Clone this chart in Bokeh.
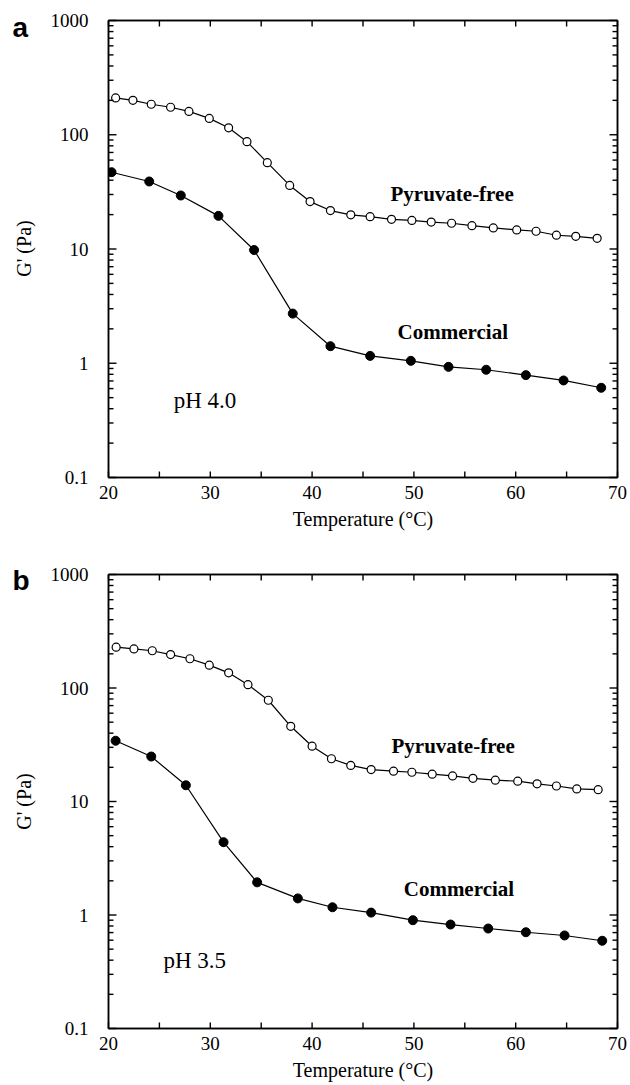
import math
from bokeh.plotting import figure
from bokeh.models import FixedTicker, LinearAxis, LogAxis, Label, CustomJSTickFormatter, Range1d
from bokeh.layouts import column, row
from bokeh.embed import file_html
from bokeh.resources import INLINE

# ---- data ----
temp_pf_a = [20.7, 22.4, 24.2, 26.1, 27.9, 29.9, 31.8, 33.6, 35.6, 37.8, 39.8, 41.8, 43.8,
             45.7, 47.8, 49.8, 51.7, 53.7, 55.7, 57.8, 60.1, 62.0, 64.0, 65.9, 68.0]
g_pf_a = [210, 200, 185, 174, 160, 139, 115, 87, 57, 36, 26, 21.7, 19.9,
          19.2, 18.2, 17.8, 17.2, 16.8, 16.0, 15.3, 14.7, 14.3, 13.2, 12.9, 12.4]
temp_com_a = [20.3, 24.0, 27.1, 30.8, 34.3, 38.1, 41.8, 45.7, 49.7, 53.4, 57.1, 61.0, 64.7, 68.4]
g_com_a = [47, 39, 29.4, 19.5, 9.8, 2.72, 1.41, 1.16, 1.05, 0.93, 0.877, 0.787, 0.707, 0.61]

temp_pf_b = [20.75, 22.5, 24.3, 26.1, 28.0, 29.9, 31.8, 33.7, 35.7, 37.9, 40.0, 41.9, 43.8,
             45.8, 48.0, 49.8, 51.8, 53.8, 55.8, 58.0, 60.2, 62.1, 64.0, 66.0, 68.1]
g_pf_b = [229, 221, 213, 197, 181, 159, 136, 107, 78, 46, 30.7, 23.8, 20.8,
          19.1, 18.5, 18.1, 17.4, 16.8, 16.0, 15.4, 15.1, 14.3, 13.7, 12.9, 12.7]
temp_com_b = [20.7, 24.2, 27.6, 31.3, 34.6, 38.6, 42.0, 45.8, 49.9, 53.6, 57.3, 61.0, 64.8, 68.5]
g_com_b = [34.3, 24.9, 13.9, 4.38, 1.94, 1.40, 1.17, 1.05, 0.90, 0.824, 0.76, 0.705, 0.66, 0.593]

x_major = [20, 30, 40, 50, 60, 70]
x_minor = [25, 35, 45, 55, 65]
y_major = [0.1, 1, 10, 100, 1000]
y_minor = [k * m for m in (0.1, 1, 10, 100) for k in range(2, 10)]
X_LO, X_HI = 20, 70
Y_LO, Y_HI = 0.1, 1000

SERIF = "Liberation Serif"
SANS = "Liberation Sans"
STRIP_W = 40
FIG_W = 630
TOTAL_H = 1085
LEFT_B = 108 - STRIP_W
TOP_B = 20


def style_axis(ax, show_labels):
    ax.axis_line_color = "black"
    ax.axis_line_width = 1.5
    ax.major_tick_line_color = None
    ax.minor_tick_line_color = None
    ax.major_tick_out = 0
    ax.minor_tick_out = 0
    ax.major_tick_in = 0
    ax.minor_tick_in = 0
    ax.major_label_text_font = SERIF
    ax.major_label_text_font_size = "19px"
    ax.major_label_text_color = "black"
    if show_labels:
        ax.formatter = CustomJSTickFormatter(code="return tick.toString();")
    else:
        ax.formatter = CustomJSTickFormatter(code="return '';")
        ax.major_label_standoff = 0


def inner_ticks(p, frame_w, frame_h):
    # inward tick marks, lengths given in pixels and converted to data units
    px_x = (X_HI - X_LO) / frame_w
    dec = math.log10(Y_HI / Y_LO) / frame_h
    kw = dict(line_color="black", line_width=1.4, level="overlay")
    xt = x_major + x_minor
    n = len(xt)
    fx = 10 ** (6 * dec)
    p.segment(x0=xt, y0=[Y_LO] * n, x1=xt, y1=[Y_LO * fx] * n, **kw)
    p.segment(x0=xt, y0=[Y_HI] * n, x1=xt, y1=[Y_HI / fx] * n, **kw)
    for vals, ln in ((y_major, 8), (y_minor, 5)):
        m = len(vals)
        p.segment(x0=[X_LO] * m, y0=vals, x1=[X_LO + ln * px_x] * m, y1=vals, **kw)
        p.segment(x0=[X_HI] * m, y0=vals, x1=[X_HI - ln * px_x] * m, y1=vals, **kw)


def make_panel(height, bottom_border, right_border, tp, gp, tc, gc,
               ph, pf_pos, com_pos, ph_pos):
    p = figure(width=FIG_W - STRIP_W, height=height, x_range=(X_LO, X_HI), y_range=(Y_LO, Y_HI),
               y_axis_type="log", output_backend="svg", toolbar_location=None, title=None,
               min_border_left=LEFT_B, min_border_right=right_border,
               min_border_top=TOP_B, min_border_bottom=bottom_border,
               background_fill_color="white", border_fill_color="white")
    p.xgrid.visible = False
    p.ygrid.visible = False
    p.outline_line_color = "black"
    p.outline_line_width = 1.5

    xt = FixedTicker(ticks=x_major, minor_ticks=x_minor)
    yt = FixedTicker(ticks=y_major, minor_ticks=y_minor)

    xa = p.xaxis[0]
    xa.ticker = xt
    style_axis(xa, True)
    xa.major_label_standoff = 8
    xa.axis_label = "Temperature (°C)"
    xa.axis_label_text_font = SERIF
    xa.axis_label_text_font_style = "normal"
    xa.axis_label_text_font_size = "20px"
    xa.axis_label_text_color = "black"
    xa.axis_label_standoff = 6

    ya = p.yaxis[0]
    ya.ticker = yt
    style_axis(ya, True)
    ya.major_label_standoff = 20

    top = LinearAxis(ticker=xt)
    style_axis(top, False)
    p.add_layout(top, "above")

    right = LogAxis(ticker=yt)
    style_axis(right, False)
    p.add_layout(right, "right")

    frame_w = FIG_W - STRIP_W - LEFT_B - right_border
    frame_h = height - TOP_B - bottom_border
    inner_ticks(p, frame_w, frame_h)

    p.line(tc, gc, line_color="black", line_width=1.2)
    p.scatter(tc, gc, size=9, fill_color="black", line_color="black", line_width=1)
    p.line(tp, gp, line_color="black", line_width=1.2)
    p.scatter(tp, gp, size=8, fill_color="white", line_color="black", line_width=1.2)

    p.add_layout(Label(x=pf_pos[0], y=pf_pos[1], text="Pyruvate-free", text_font=SERIF,
                       text_font_style="bold", text_font_size="21px",
                       text_baseline="middle", text_align="left", text_color="black"))
    p.add_layout(Label(x=com_pos[0], y=com_pos[1], text="Commercial", text_font=SERIF,
                       text_font_style="bold", text_font_size="21px",
                       text_baseline="middle", text_align="left", text_color="black"))
    p.add_layout(Label(x=ph_pos[0], y=ph_pos[1], text=ph, text_font=SERIF,
                       text_font_size="23px", text_baseline="middle",
                       text_align="left", text_color="black"))
    return p


# left strip spanning both panels: panel letters and the y-axis titles
# (its y coordinate is the page pixel row, counted from the top)
STRIP_TOP, STRIP_BOTTOM = 20, 57
strip = figure(width=STRIP_W, height=TOTAL_H, title=None,
               x_range=(0, STRIP_W), y_range=Range1d(TOTAL_H - STRIP_BOTTOM, STRIP_TOP),
               x_axis_location=None, y_axis_location=None, output_backend="svg",
               toolbar_location=None, min_border_left=0, min_border_right=0,
               min_border_top=STRIP_TOP, min_border_bottom=STRIP_BOTTOM,
               outline_line_color=None,
               background_fill_color="white", border_fill_color="white")
strip.xgrid.visible = False
strip.ygrid.visible = False
for letter, ly in (("a", 27), ("b", 580)):
    strip.add_layout(Label(x=12, y=ly, text=letter, text_font=SANS,
                           text_font_style="bold", text_font_size="28px",
                           text_baseline="middle", text_align="left", text_color="black"))
for cy in (248, 801):
    strip.add_layout(Label(x=23, y=cy, text="G' (Pa)", text_font=SERIF,
                           text_font_size="20px", angle=math.pi / 2,
                           text_baseline="middle", text_align="center", text_color="black"))

pa = make_panel(554, 77, 13, temp_pf_a, g_pf_a, temp_com_a, g_com_a, "pH 4.0",
                (47.7, 30.6), (48.4, 1.86), (26.4, 0.47))
pb = make_panel(531, 57, 12, temp_pf_b, g_pf_b, temp_com_b, g_com_b, "pH 3.5",
                (47.8, 31.0), (49.0, 1.68), (25.4, 0.40))

layout = row(strip, column(pa, pb, spacing=0), spacing=0)
open("out.html", "w").write(file_html(layout, INLINE))
